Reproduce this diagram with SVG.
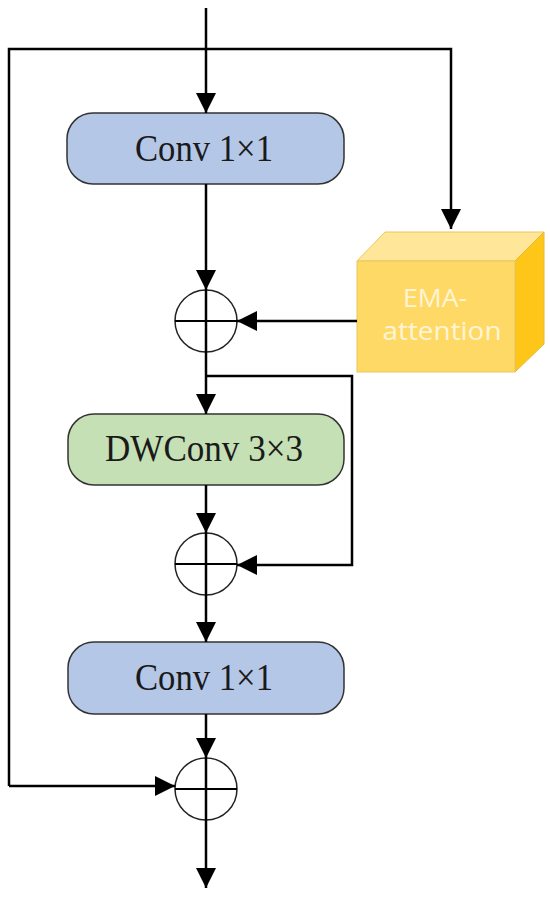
<svg xmlns="http://www.w3.org/2000/svg" width="550" height="899" viewBox="0 0 550 899">
<style>
.box{stroke:#333;stroke-width:1.5}
.blue{fill:#b4c7e7}
.green{fill:#c5e0b4}
.lbl{font-family:"Liberation Serif",serif;font-size:37px;fill:#1a1a1a;text-anchor:middle}
.ema{font-family:"Open Sans","Noto Sans",sans-serif;font-size:26px;fill:#fff5d6;text-anchor:middle}
.wire{fill:none;stroke:#000;stroke-width:2.5}
.sum{fill:#fff;stroke:#222;stroke-width:1.5}
.cross{stroke:#000;stroke-width:2}
</style>
<defs>
<marker id="ah" markerWidth="22" markerHeight="22" refX="20" refY="10" orient="auto" markerUnits="userSpaceOnUse">
<path d="M0,0 L20,10 L0,20 Z" fill="#000"/>
</marker>
</defs>
<g id="conv1">
<rect class="box blue" x="67" y="113" width="277" height="71" rx="26"/>
<text class="lbl" x="204" y="161" textLength="138" lengthAdjust="spacingAndGlyphs">Conv 1×1</text>
</g>
<g id="ema">
<polygon points="357,261 385,232 544,232 515,261" fill="#ffe699" stroke="#e8c860" stroke-width="1"/>
<polygon points="515,261 544,232 544,344 515,372" fill="#ffc61a" stroke="#e8b830" stroke-width="1"/>
<rect x="357" y="261" width="158" height="111" fill="#ffd966" stroke="#e8c860" stroke-width="1"/>
<text class="ema" x="435" y="307" textLength="64" lengthAdjust="spacingAndGlyphs">EMA-</text>
<text class="ema" x="442" y="340" textLength="119" lengthAdjust="spacingAndGlyphs">attention</text>
</g>
<g id="dwconv">
<rect class="box green" x="68" y="414" width="276" height="71" rx="26"/>
<text class="lbl" x="204" y="461" textLength="198" lengthAdjust="spacingAndGlyphs">DWConv 3×3</text>
</g>
<g id="conv2">
<rect class="box blue" x="68" y="642" width="276" height="72" rx="26"/>
<text class="lbl" x="204" y="690" textLength="138" lengthAdjust="spacingAndGlyphs">Conv 1×1</text>
</g>
<g id="sum1">
<circle class="sum" cx="206" cy="321" r="31"/>
<line class="cross" x1="175" y1="321" x2="237" y2="321"/>
</g>
<g id="sum2">
<circle class="sum" cx="206" cy="564" r="31"/>
<line class="cross" x1="175" y1="564" x2="237" y2="564"/>
</g>
<g id="sum3">
<circle class="sum" cx="206" cy="789" r="31"/>
<line class="cross" x1="175" y1="789" x2="237" y2="789"/>
</g>
<g id="connectors">
<path class="wire" d="M206,8 V113" marker-end="url(#ah)"/>
<path class="wire" d="M9,786 V49 H451 V229" marker-end="url(#ah)"/>
<path class="wire" d="M206,184 V290" marker-end="url(#ah)"/>
<path class="wire" d="M357,321 H237" marker-end="url(#ah)"/>
<path class="wire" d="M206,290 V414" marker-end="url(#ah)"/>
<path class="wire" d="M206,376 H352 V565 H237" marker-end="url(#ah)"/>
<path class="wire" d="M206,485 V533" marker-end="url(#ah)"/>
<path class="wire" d="M206,533 V642" marker-end="url(#ah)"/>
<path class="wire" d="M206,714 V758" marker-end="url(#ah)"/>
<path class="wire" d="M9,786 H175" marker-end="url(#ah)"/>
<path class="wire" d="M206,758 V888" marker-end="url(#ah)"/>
</g>
</svg>
